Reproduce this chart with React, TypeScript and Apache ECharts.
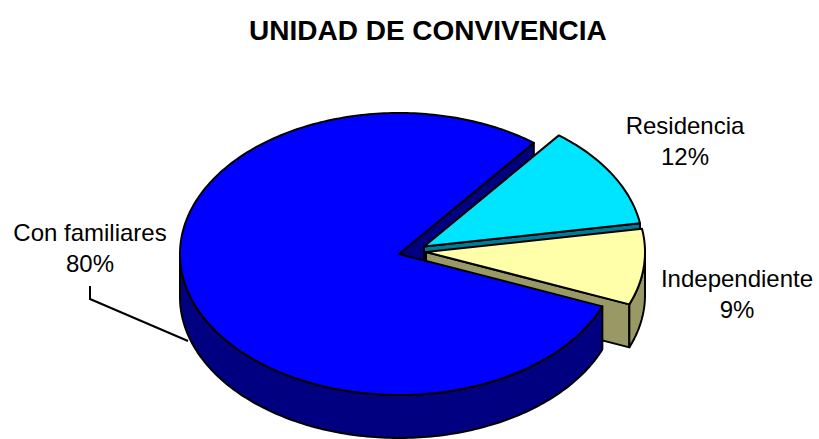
import React, { useEffect, useRef } from "react";
import * as echarts from "echarts";

// ---- data ----
const TITLE = "UNIDAD DE CONVIVENCIA";
const CATEGORIES = ["Residencia", "Independiente", "Con familiares"];
const VALUES = [11.8, 8.7, 79.5];

// ---- styling / layout ----
const TOP_COLORS = ["#00E5FF", "#FFFFAA", "#0000FF"];
const SIDE_COLORS = ["#007C99", "#999966", "#000080"];
// explosion offsets (pixels) of each slice
const OFFSETS = [
  [25, -7.5],
  [27, -2],
  [0, 0],
];
const LABEL_CENTERS = [
  [685, 141],
  [737, 294],
  [90, 248],
];
const LEADERS: (number[][] | null)[] = [
  null,
  null,
  [
    [90, 286],
    [90, 299],
    [188, 341],
  ],
];
const CX = 399;
const CY = 254;
const RX = 219;
const RY = 141;
const DEPTH = 43;
const START = 38;
const FONT = "Arial, 'Liberation Sans', sans-serif";

export default function App() {
  const ref = useRef<HTMLDivElement>(null);
  useEffect(() => {
    const chart = echarts.init(ref.current!, null, { renderer: "svg" });
    const total = VALUES.reduce((s, v) => s + v, 0);
    const starts: number[] = [];
    let acc = START;
    VALUES.forEach((v) => {
      starts.push(acc);
      acc += (v / total) * 360;
    });
    const rad = (d: number) => (d * Math.PI) / 180;
    const pt = (ox: number, oy: number, deg: number, h: number) => [
      CX + ox + RX * Math.sin(rad(deg)),
      CY + oy - RY * Math.cos(rad(deg)) + h,
    ];
    const arc = (ox: number, oy: number, a: number, b: number, h: number) => {
      const pts: number[][] = [];
      const n = Math.max(2, Math.ceil(Math.abs(b - a)));
      for (let k = 0; k <= n; k++) pts.push(pt(ox, oy, a + ((b - a) * k) / n, h));
      return pts;
    };
    const line = { stroke: "#000", lineWidth: 2, lineJoin: "round" };

    const renderItem = (params: any, api: any) => {
      const i = params.dataIndex;
      const v = api.value(0);
      const a = starts[i];
      const b = a + (v / total) * 360;
      const ox = OFFSETS[i][0];
      const oy = OFFSETS[i][1];
      const apexT = [CX + ox, CY + oy];
      const apexB = [CX + ox, CY + oy + DEPTH];
      const children: any[] = [];

      // radial cut faces
      const faces: [number, boolean][] = [
        [a, Math.sin(rad(a)) < 0],
        [b, Math.sin(rad(b)) > 0],
      ];
      faces.forEach(([ang, vis]) => {
        if (!vis) return;
        const eT = pt(ox, oy, ang, 0);
        const eB = pt(ox, oy, ang, DEPTH);
        const midY = (apexT[1] + eT[1]) / 2;
        children.push({
          type: "polygon",
          z2: 1 + midY / 1000,
          shape: { points: [apexT, eT, eB, apexB] },
          style: { fill: SIDE_COLORS[i], ...line },
        });
      });

      // outer (front) wall
      [
        [90, 270],
        [450, 630],
      ].forEach(([lo, hi]) => {
        const s = Math.max(a, lo);
        const e = Math.min(b, hi);
        if (e <= s) return;
        const top = arc(ox, oy, s, e, 0);
        const bot = arc(ox, oy, e, s, DEPTH);
        children.push({
          type: "polygon",
          z2: 3,
          shape: { points: [...top, ...bot] },
          style: { fill: SIDE_COLORS[i], ...line },
        });
      });

      // top face
      children.push({
        type: "polygon",
        z2: 5,
        shape: { points: [apexT, ...arc(ox, oy, a, b, 0)] },
        style: { fill: TOP_COLORS[i], ...line },
      });

      // label
      const pct = Math.round((v / total) * 100);
      children.push({
        type: "text",
        z2: 10,
        x: LABEL_CENTERS[i][0],
        y: LABEL_CENTERS[i][1],
        style: {
          text: `${CATEGORIES[i]}\n${pct}%`,
          fill: "#000",
          fontSize: 24,
          fontFamily: FONT,
          lineHeight: 31,
          align: "center",
          verticalAlign: "middle",
        },
      });
      const leader = LEADERS[i];
      if (leader) {
        children.push({
          type: "polyline",
          z2: 10,
          shape: { points: leader },
          style: { stroke: "#000", lineWidth: 2, fill: null },
        });
      }
      return { type: "group", children };
    };

    chart.setOption({
      animation: false,
      backgroundColor: "#fff",
      title: {
        text: TITLE,
        left: 244,
        top: 11,
        textStyle: {
          fontSize: 28,
          fontWeight: "bold",
          fontFamily: FONT,
          color: "#000",
        },
      },
      series: [
        {
          type: "custom",
          coordinateSystem: "none",
          renderItem,
          data: VALUES.map((v, i) => ({ name: CATEGORIES[i], value: v })),
        },
      ],
    });
    return () => chart.dispose();
  }, []);
  return (
    <div
      ref={ref}
      style={{ position: "fixed", left: 0, top: 0, width: 819, height: 439 }}
    />
  );
}
